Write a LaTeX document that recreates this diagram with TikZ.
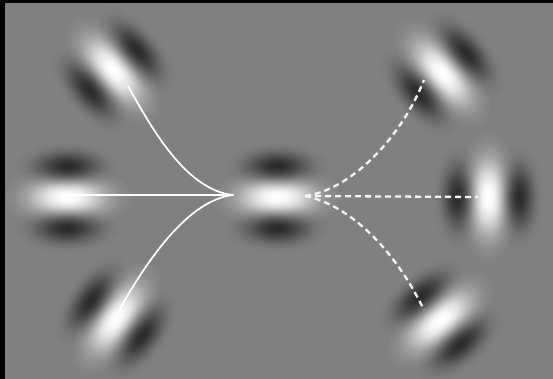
\documentclass[tikz,border=0pt]{standalone}
\definecolor{bg}{RGB}{128,128,128}
\definecolor{dk}{RGB}{40,40,40}
\pgfdeclareradialshading{gw}{\pgfpoint{0bp}{0bp}}{color(0bp)=(white); color(4bp)=(white!93!bg); color(8bp)=(white!75!bg); color(12bp)=(white!48!bg); color(16bp)=(white!24!bg); color(20bp)=(white!9!bg); color(25bp)=(bg); color(50bp)=(bg)}
\pgfdeclareradialshading{gd}{\pgfpoint{0bp}{0bp}}{color(0bp)=(dk); color(4bp)=(dk!90!bg); color(8bp)=(dk!68!bg); color(12bp)=(dk!42!bg); color(16bp)=(dk!20!bg); color(20bp)=(dk!7!bg); color(25bp)=(bg); color(50bp)=(bg)}
\newcommand\gabor[3]{%
  \begin{scope}[transform canvas={shift={(#1,#2)},rotate=#3}, blend mode=overlay]
    \shade[shading=gd] (0,31) ellipse (56 and 26);
    \shade[shading=gd] (0,-31) ellipse (56 and 26);
    \shade[shading=gw] (0,0) ellipse (66 and 31);
  \end{scope}}
\tikzset{
  solidln/.style={white, line width=1.7pt, line cap=round},
  dashln/.style={white!92!bg, line width=2.3pt, dash pattern=on 6pt off 4pt}
}
\begin{document}
\begin{tikzpicture}[x=1pt,y=-1pt]
\useasboundingbox (0,0) rectangle (553,379);
\fill[black] (0,0) rectangle (553,379);
\fill[bg] (5,3) rectangle (553,379);
% Gabor patches
\gabor{113}{70}{-50}
\gabor{67}{197}{0}
\gabor{116}{318}{55}
\gabor{277}{197}{0}
\gabor{442}{73}{-50}
\gabor{488}{197}{90}
\gabor{440}{320}{40}
% connector endpoints
\coordinate (cs) at (233,195);
\coordinate (ce) at (305,196);
\coordinate (tl) at (128,86);
\coordinate (ml) at (62,195);
\coordinate (bl) at (118,312);
\coordinate (tr) at (424,80);
\coordinate (mr) at (478,197);
\coordinate (br) at (424,310);
% solid curves
\draw[solidln] (cs) -- (ml);
\draw[solidln] (cs) .. controls (185,190) and (150,125) .. (tl);
\draw[solidln] (cs) .. controls (190,200) and (150,255) .. (bl);
% dashed curves
\draw[dashln] (ce) -- (mr);
\draw[dashln] (ce) .. controls (350,190) and (400,140) .. (tr);
\draw[dashln] (ce) .. controls (350,205) and (395,250) .. (br);
\end{tikzpicture}
\end{document}
